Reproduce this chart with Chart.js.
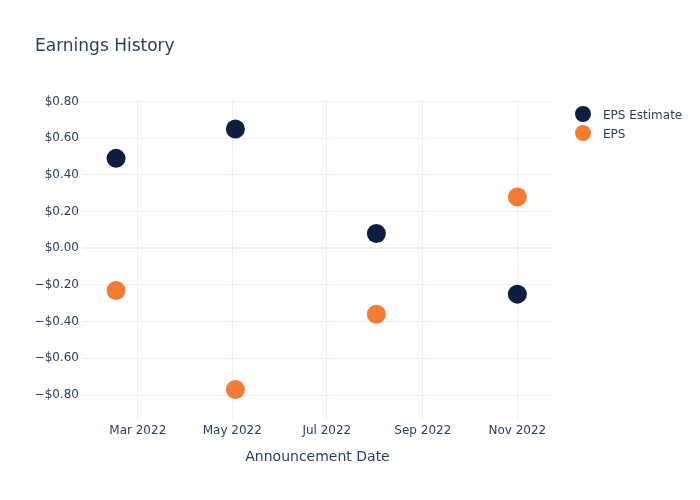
<!DOCTYPE html>
<html>
<head>
<meta charset="utf-8">
<title>Earnings History</title>
<script src="https://cdn.jsdelivr.net/npm/chart.js@4.4.1/dist/chart.umd.min.js"></script>
<style>
  body { margin: 0; background: #fff; }
  #wrap { width: 700px; height: 500px; }
</style>
</head>
<body>
<div id="wrap"><canvas id="earningsChart" width="700" height="500"></canvas></div>
<script>
// announcement dates and values
const dates = ["2022-02-15", "2022-05-03", "2022-08-02", "2022-11-01"];
const epsEstimate = [0.49, 0.65, 0.08, -0.25];
const epsActual = [-0.23, -0.77, -0.36, 0.28];

const xTickDates = ["2022-03-01", "2022-05-01", "2022-07-01", "2022-09-01", "2022-11-01"];
const xTickLabels = ["Mar 2022", "May 2022", "Jul 2022", "Sep 2022", "Nov 2022"];
const yTicks = [-0.8, -0.6, -0.4, -0.2, 0, 0.2, 0.4, 0.6, 0.8];

const FONT = "'DejaVu Sans', Verdana, sans-serif";
const TEXT = "#2a3f5f";
const GRID = "#ebf0f8";

const toPoints = (vals) => vals.map((v, i) => ({ x: Date.parse(dates[i]), y: v }));

const fmtMoney = (v) => {
  const s = "$" + Math.abs(v).toFixed(2);
  return v < -1e-9 ? "\u2212" + s : s;
};

// title + legend drawn by hand so they sit where plotly put them
const decorations = {
  id: "decorations",
  afterDraw(chart) {
    const ctx = chart.ctx;
    ctx.save();
    ctx.fillStyle = TEXT;
    ctx.textBaseline = "alphabetic";
    ctx.textAlign = "left";
    ctx.font = "17px " + FONT;
    ctx.fillText("Earnings History", 35, 51);

    ctx.font = "12px " + FONT;
    chart.data.datasets.forEach((ds, i) => {
      const y = 114 + i * 19;
      ctx.beginPath();
      ctx.arc(583, y, 8, 0, Math.PI * 2);
      ctx.fillStyle = ds.backgroundColor;
      ctx.fill();
      ctx.fillStyle = TEXT;
      ctx.fillText(ds.label, 603, y + 5);
    });
    ctx.restore();
  },
};

new Chart(document.getElementById("earningsChart"), {
  type: "scatter",
  data: {
    datasets: [
      {
        label: "EPS Estimate",
        data: toPoints(epsEstimate),
        backgroundColor: "#0d1f3f",
        borderWidth: 0,
        pointRadius: 9.5,
        pointHoverRadius: 9.5,
      },
      {
        label: "EPS",
        data: toPoints(epsActual),
        backgroundColor: "#f57d33",
        borderWidth: 0,
        pointRadius: 9.5,
        pointHoverRadius: 9.5,
      },
    ],
  },
  options: {
    responsive: false,
    animation: false,
    layout: { padding: { left: 0, top: 100, right: 147, bottom: 0 } },
    plugins: {
      legend: { display: false },
      tooltip: { enabled: false },
    },
    scales: {
      x: {
        type: "linear",
        min: Date.parse("2022-01-24"),
        max: Date.parse("2022-11-24"),
        afterBuildTicks: (axis) => {
          axis.ticks = xTickDates.map((d) => ({ value: Date.parse(d) }));
        },
        afterFit: (axis) => { axis.height = 80; },
        ticks: {
          padding: 4,
          color: TEXT,
          font: { family: FONT, size: 12 },
          maxRotation: 0,
          callback: (v) => {
            const i = xTickDates.findIndex((d) => Date.parse(d) === v);
            return i >= 0 ? xTickLabels[i] : "";
          },
        },
        grid: { color: GRID, drawTicks: false },
        border: { display: false },
        title: {
          display: true,
          text: "Announcement Date",
          color: TEXT,
          font: { family: FONT, size: 14 },
          padding: { top: 34, bottom: 34 },
        },
      },
      y: {
        min: -0.936,
        max: 0.808,
        afterBuildTicks: (axis) => {
          axis.ticks = yTicks.map((v) => ({ value: v }));
        },
        afterFit: (axis) => { axis.width = 82; },
        ticks: {
          padding: 3,
          color: TEXT,
          font: { family: FONT, size: 12 },
          callback: (v) => fmtMoney(v),
        },
        grid: {
          color: GRID,
          drawTicks: false,
          lineWidth: (c) => (c.tick && Math.abs(c.tick.value) < 1e-9 ? 2 : 1),
        },
        border: { display: false },
      },
    },
  },
  plugins: [decorations],
});
</script>
</body>
</html>
